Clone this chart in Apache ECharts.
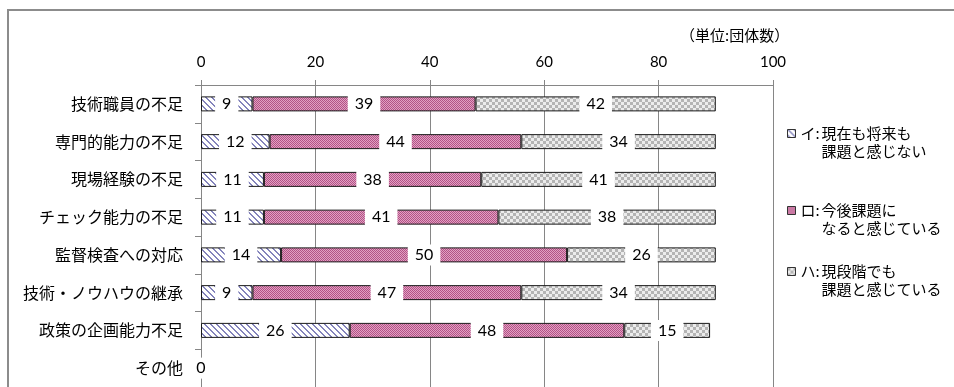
<!DOCTYPE html>
<html><head><meta charset="utf-8">
<script src="https://cdn.jsdelivr.net/npm/echarts@6/dist/echarts.min.js"></script>
<style>html,body{margin:0;padding:0;background:#fff}#c{width:954px;height:387px}</style>
</head><body><div id="c"></div>
<script>
const categories = ['技術職員の不足','専門的能力の不足','現場経験の不足','チェック能力の不足','監督検査への対応','技術・ノウハウの継承','政策の企画能力不足','その他'];
const seriesNames = ['イ:現在も将来も課題と感じない','ロ:今後課題になると感じている','ハ:現段階でも課題と感じている'];
const legendKeys = ['イ:','ロ:','ハ:'];
const legendLine1 = ['現在も将来も','今後課題に','現段階でも'];
const legendLine2 = ['課題と感じない','なると感じている','課題と感じている'];
const valuesI  = [9, 12, 11, 11, 14, 9, 26, 0];
const valuesRo = [39, 44, 38, 41, 50, 47, 48, null];
const valuesHa = [42, 34, 41, 38, 26, 34, 15, null];
const xMin = 0, xMax = 100, xStep = 20;
const unitLabel = '（単位:団体数）';

function makePattern(size, paint) {
  const c = document.createElement('canvas');
  c.width = size; c.height = size;
  paint(c.getContext('2d'));
  return { image: c, repeat: 'repeat' };
}
const stripe = makePattern(6, ctx => {
  ctx.fillStyle = '#ffffff'; ctx.fillRect(0, 0, 6, 6);
  ctx.fillStyle = '#8484bc';
  for (let y = 0; y < 6; y++) { ctx.fillRect(y % 6, y, 1, 1); ctx.fillRect((y + 1) % 6, y, 1, 1); }
});
const pink = makePattern(2, ctx => {
  ctx.fillStyle = '#e2a0c2'; ctx.fillRect(0, 0, 2, 2);
  ctx.fillStyle = '#b25286'; ctx.fillRect(0, 0, 1, 1); ctx.fillRect(1, 1, 1, 1);
});
const gray = makePattern(6, ctx => {
  ctx.fillStyle = '#ececec'; ctx.fillRect(0, 0, 6, 6);
  ctx.fillStyle = '#b4b4b4'; ctx.fillRect(0, 0, 3, 3); ctx.fillRect(3, 3, 3, 3);
});
const fills = [stripe, pink, gray];
const allValues = [valuesI, valuesRo, valuesHa];

const JP = '"Noto Sans CJK JP", sans-serif';
const NUM = 'Lato, sans-serif';
const AX = '#868686';

const chart = echarts.init(document.getElementById('c'), null, { renderer: 'canvas' });
const legendTops = [126, 203, 264];
chart.setOption({
  animation: false,
  backgroundColor: '#fff',
  title: { text: unitLabel, left: 680, top: 28, padding: 0,
    textStyle: { fontSize: 15, fontWeight: 'normal', fontFamily: JP, color: '#000' } },
  graphic: [{ type: 'rect', silent: true, z: -10,
    shape: { x: 8, y: 10, width: 1000, height: 400 },
    style: { fill: 'none', stroke: '#8c8c8c', lineWidth: 2 } }],
  grid: { left: 201, right: 181, top: 85, bottom: -4, containLabel: false },
  xAxis: { type: 'value', position: 'top', min: xMin, max: xMax, interval: xStep,
    axisLine: { show: true, lineStyle: { color: AX } },
    axisTick: { show: true, length: 5, lineStyle: { color: AX } },
    axisLabel: { margin: 15, fontFamily: NUM, fontSize: 15, color: '#000' },
    splitLine: { show: true, lineStyle: { color: AX } } },
  yAxis: { type: 'category', data: categories, inverse: true,
    axisLine: { show: true, lineStyle: { color: AX } },
    axisTick: { show: true, length: 6, lineStyle: { color: AX } },
    axisLabel: { margin: 18, fontFamily: JP, fontSize: 16, color: '#000' },
    splitLine: { show: false } },
  legend: legendKeys.map((k, i) => ({
    data: [seriesNames[i]], left: 787, top: legendTops[i], padding: 0,
    selectedMode: false, icon: 'rect', itemWidth: 8, itemHeight: 8,
    itemStyle: { borderColor: '#333', borderWidth: 1 },
    formatter: () => '{k|' + legendKeys[i] + '}{t|' + legendLine1[i] + '}\n{k|}{t|' + legendLine2[i] + '}',
    textStyle: { padding: [18, 0, 0, 0], color: '#000',
      rich: { k: { width: 21, fontSize: 15, lineHeight: 18, fontFamily: JP, color: '#000' },
              t: { fontSize: 15, lineHeight: 18, fontFamily: JP, color: '#000' } } }
  })),
  series: seriesNames.map((n, i) => ({
    name: n, type: 'bar', stack: 'total', barWidth: 15, data: allValues[i],
    itemStyle: { color: fills[i], borderColor: '#1a1a1a', borderWidth: 1 },
    emphasis: { disabled: true },
    label: { show: true, position: 'inside', color: '#000', fontFamily: NUM, fontSize: 16,
      lineHeight: 17, backgroundColor: '#fff', padding: [2, 7] }
  }))
});
</script></body></html>
